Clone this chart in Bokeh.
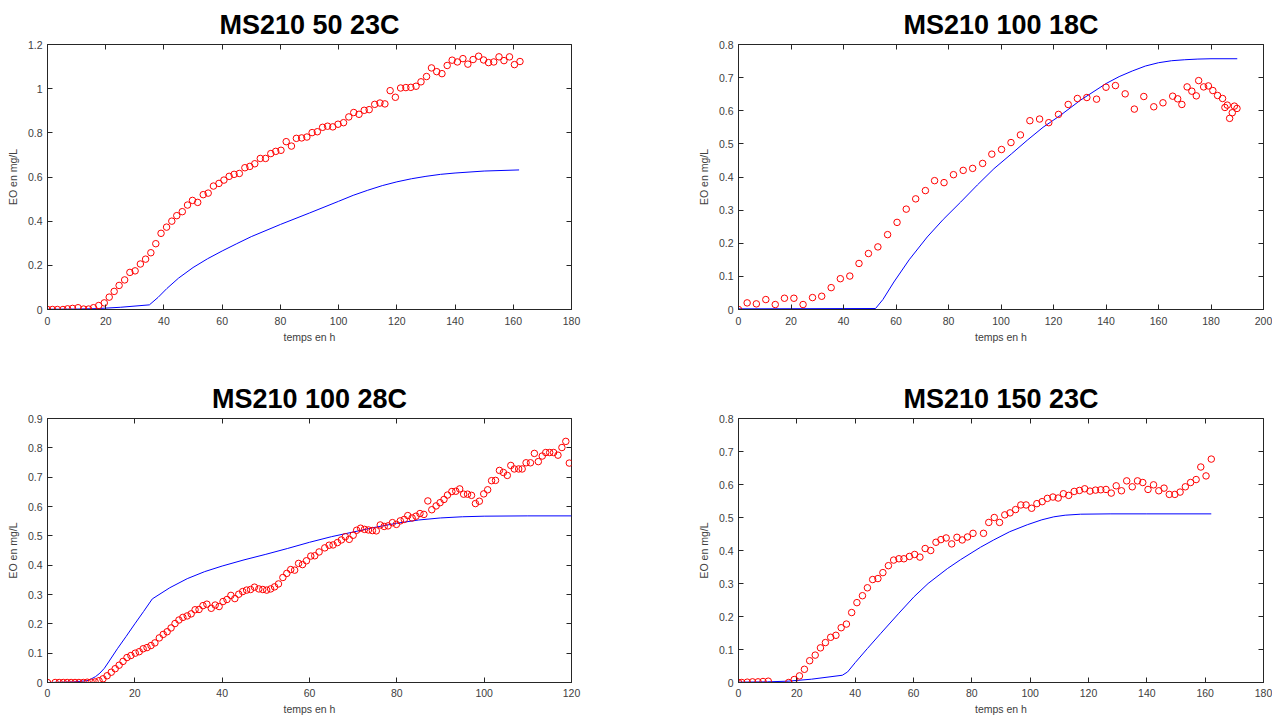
from bokeh.plotting import figure
from bokeh.layouts import row, column
from bokeh.models import Range1d, FixedTicker, LinearAxis, NumeralTickFormatter
from bokeh.embed import file_html
from bokeh.resources import INLINE

# ---------------- data ----------------
titles = ["MS210 50 23C", "MS210 100 18C", "MS210 100 28C", "MS210 150 23C"]
x_label = "temps en h"
y_label = "EO en mg/L"

# Panel 1 : MS210 50 23C
t1 = [0, 1.7, 3.4, 5.3, 6.9, 8.6, 10.5, 12.4, 14.1, 15.8, 17.6, 19.5, 21.2, 22.9, 24.6, 26.5,
      28.3, 30.1, 31.9, 33.7, 35.5, 37.2, 39.0, 40.9, 42.7, 44.4, 46.3, 48.1, 49.8, 51.6, 53.5,
      55.2, 57.0, 58.9, 60.6, 62.4, 64.1, 65.9, 67.8, 69.5, 71.2, 73.1, 74.9, 76.7, 78.4, 80.2,
      82.0, 83.8, 85.5, 87.3, 89.1, 90.9, 92.7, 94.5, 96.2, 98.0, 99.8, 101.7, 103.5, 105.2,
      107.0, 108.8, 110.5, 112.4, 114.2, 115.9, 117.7, 119.5, 121.3, 123.1, 124.8, 126.6, 128.3,
      130.2, 131.9, 133.7, 135.5, 137.3, 139.0, 140.8, 142.7, 144.4, 146.2, 148.1, 149.8, 151.5,
      153.3, 155.1, 156.8, 158.7, 160.4, 162.3]
eo1 = [0, 0, 0, 0, 0.003, 0.005, 0.008, 0.002, 0.002, 0.008, 0.018, 0.03, 0.056, 0.082, 0.109,
       0.134, 0.168, 0.175, 0.206, 0.228, 0.257, 0.298, 0.345, 0.373, 0.400, 0.425, 0.443, 0.473,
       0.494, 0.485, 0.520, 0.527, 0.559, 0.571, 0.586, 0.603, 0.612, 0.616, 0.642, 0.648, 0.660,
       0.684, 0.684, 0.706, 0.716, 0.721, 0.760, 0.740, 0.775, 0.777, 0.781, 0.801, 0.805, 0.825,
       0.830, 0.827, 0.839, 0.846, 0.872, 0.892, 0.884, 0.902, 0.905, 0.929, 0.935, 0.931, 0.991,
       0.961, 1.003, 1.005, 1.006, 1.011, 1.031, 1.055, 1.094, 1.077, 1.068, 1.105, 1.129, 1.121,
       1.136, 1.111, 1.132, 1.147, 1.130, 1.118, 1.121, 1.144, 1.127, 1.144, 1.109, 1.123]
mt1 = [0, 10, 17, 25, 35, 38, 41, 45, 50, 55, 60, 65, 70, 80, 90, 100, 105, 110, 115, 120, 125,
       130, 135, 140, 150, 162]
my1 = [0.001, 0.002, 0.004, 0.01, 0.021, 0.055, 0.095, 0.142, 0.19, 0.23, 0.265, 0.298, 0.33,
       0.385, 0.437, 0.49, 0.517, 0.54, 0.561, 0.578, 0.592, 0.603, 0.612, 0.618, 0.627, 0.632]

# Panel 2 : MS210 100 18C
t2 = [0, 3.3, 6.8, 10.4, 14.0, 17.5, 21.1, 24.6, 28.2, 31.7, 35.3, 38.8, 42.4, 45.9, 49.5, 53.1,
      56.8, 60.4, 63.9, 67.5, 71.2, 74.7, 78.3, 81.9, 85.6, 89.2, 93.0, 96.5, 100.2, 103.8, 107.4,
      111.0, 114.7, 118.2, 121.9, 125.6, 129.1, 132.7, 136.4, 140.0, 143.6, 147.3, 150.8, 154.4,
      158.2, 161.7, 165.4, 167.3, 168.9, 170.9, 172.7, 174.4, 175.3, 177.2, 179.0, 180.7, 182.5,
      184.4, 185.3, 186.2, 187.1, 188.1, 188.9, 189.9]
eo2 = [0, 0.020, 0.017, 0.030, 0.015, 0.034, 0.034, 0.015, 0.036, 0.040, 0.066, 0.093, 0.101,
       0.139, 0.169, 0.189, 0.226, 0.263, 0.303, 0.334, 0.359, 0.389, 0.383, 0.407, 0.420, 0.426,
       0.441, 0.469, 0.483, 0.504, 0.527, 0.570, 0.575, 0.564, 0.589, 0.619, 0.637, 0.640, 0.635,
       0.671, 0.676, 0.651, 0.605, 0.643, 0.612, 0.624, 0.644, 0.636, 0.619, 0.672, 0.659, 0.645,
       0.691, 0.672, 0.675, 0.661, 0.646, 0.637, 0.610, 0.617, 0.577, 0.594, 0.614, 0.607]
mt2 = [0, 52.2, 55, 59.2, 65, 71.9, 78, 84.6, 91, 97.3, 104, 110, 116, 122.6, 130.3, 140, 145,
       150, 155, 160, 165, 170, 175, 180, 190]
my2 = [0.002, 0.003, 0.03, 0.083, 0.15, 0.219, 0.272, 0.324, 0.376, 0.425, 0.47, 0.511, 0.55,
       0.586, 0.632, 0.682, 0.703, 0.72, 0.735, 0.745, 0.751, 0.754, 0.756, 0.757, 0.757]

# Panel 3 : MS210 100 28C
t3 = [0, 1.75, 2.67, 3.6, 4.5, 5.4, 6.3, 7.2, 8.2, 9.1, 10.0, 10.9, 11.8, 12.7, 13.65, 14.6, 15.5,
      16.4, 17.3, 18.2, 19.1, 20.1, 21.0, 21.9, 22.8, 23.7, 24.6, 25.6, 26.5, 27.4, 28.3, 29.2,
      30.1, 31.0, 32.0, 32.9, 33.8, 34.7, 35.6, 36.5, 37.5, 38.4, 39.3, 40.2, 41.1, 42.0, 42.9,
      43.8, 44.7, 45.6, 46.5, 47.4, 48.4, 49.3, 50.2, 51.1, 52.0, 52.9, 53.9, 54.8, 55.7, 56.6,
      57.5, 58.4, 59.3, 60.3, 61.2, 62.2, 63.5, 64.5, 65.4, 66.4, 67.3, 68.2, 69.1, 70.0, 70.8,
      71.7, 72.6, 73.5, 74.4, 75.3, 76.2, 77.1, 78.0, 79.0, 79.9, 80.8, 81.7, 82.5, 83.5, 84.4,
      85.3, 86.2, 87.1, 88.0, 89.0, 89.9, 90.8, 91.6, 92.6, 93.5, 94.4, 95.3, 96.2, 97.1, 98.0,
      98.9, 99.9, 100.8, 101.7, 102.6, 103.5, 104.4, 105.3, 106.1, 106.9, 107.9, 108.7, 109.6,
      110.6, 111.5, 112.4, 113.3, 114.1, 115.0, 115.9, 116.9, 117.8, 118.7, 119.5]
eo3 = [0, 0, 0, 0, 0, 0, 0, 0, 0, 0.001, 0.001, 0.002, 0.006, 0.0125, 0.023, 0.035, 0.047, 0.059,
       0.072, 0.085, 0.092, 0.100, 0.105, 0.115, 0.119, 0.126, 0.135, 0.152, 0.164, 0.173, 0.186,
       0.201, 0.213, 0.222, 0.227, 0.234, 0.248, 0.249, 0.262, 0.267, 0.253, 0.264, 0.259, 0.276,
       0.283, 0.297, 0.286, 0.301, 0.310, 0.315, 0.317, 0.325, 0.319, 0.317, 0.315, 0.319, 0.326,
       0.336, 0.358, 0.372, 0.385, 0.383, 0.406, 0.402, 0.415, 0.431, 0.432, 0.445, 0.459, 0.468,
       0.469, 0.477, 0.486, 0.497, 0.488, 0.502, 0.519, 0.526, 0.522, 0.520, 0.518, 0.517, 0.537,
       0.532, 0.534, 0.545, 0.539, 0.551, 0.556, 0.569, 0.561, 0.567, 0.576, 0.573, 0.619, 0.589,
       0.602, 0.613, 0.624, 0.639, 0.651, 0.652, 0.660, 0.642, 0.642, 0.638, 0.610, 0.618, 0.643,
       0.657, 0.688, 0.689, 0.723, 0.716, 0.706, 0.740, 0.728, 0.728, 0.728, 0.749, 0.749, 0.781,
       0.753, 0.772, 0.784, 0.784, 0.784, 0.775, 0.801, 0.822, 0.748]
mt3 = [0, 6, 9, 10, 11, 12, 13, 14, 16, 18, 20, 22, 24, 28, 32, 36, 40, 45, 50, 55, 60, 65, 70,
       75, 80, 85, 90, 95, 100, 110, 120]
my3 = [0, 0.002, 0.006, 0.012, 0.02, 0.032, 0.048, 0.07, 0.115, 0.157, 0.2, 0.242, 0.285, 0.323,
       0.354, 0.378, 0.397, 0.418, 0.437, 0.457, 0.478, 0.497, 0.513, 0.529, 0.543, 0.554, 0.561,
       0.565, 0.567, 0.568, 0.568]

# Panel 4 : MS210 150 23C
t4 = [0, 1.1, 3.0, 4.8, 6.7, 8.4, 10.2, 17.2, 19.1, 20.9, 22.6, 24.4, 26.3, 28.1, 29.8, 31.6,
      33.4, 35.2, 37.0, 38.8, 40.6, 42.5, 44.2, 46.0, 47.8, 49.5, 51.4, 53.2, 55.0, 56.7, 58.6,
      60.4, 62.2, 64.0, 65.9, 67.7, 69.4, 71.2, 73.1, 74.9, 76.7, 78.5, 80.4, 84.0, 85.8, 87.7,
      89.5, 91.3, 93.1, 95.0, 96.8, 98.6, 100.5, 102.3, 104.1, 105.9, 107.8, 109.6, 111.4, 113.2,
      115.1, 116.9, 118.7, 120.5, 122.4, 124.2, 126.0, 127.8, 129.5, 131.3, 133.1, 135.0, 136.8,
      138.6, 140.4, 142.3, 144.1, 145.9, 147.7, 149.6, 151.4, 153.2, 155.0, 156.9, 158.5, 160.3,
      162.1]
eo4 = [0, 0, 0.001, 0.002, 0.002, 0.003, 0.004, 0, 0.009, 0.020, 0.040, 0.066, 0.083, 0.105,
       0.121, 0.137, 0.143, 0.166, 0.177, 0.212, 0.242, 0.263, 0.287, 0.312, 0.315, 0.333, 0.354,
       0.371, 0.375, 0.375, 0.382, 0.388, 0.380, 0.406, 0.400, 0.425, 0.433, 0.438, 0.420, 0.440,
       0.432, 0.441, 0.452, 0.452, 0.485, 0.500, 0.485, 0.508, 0.514, 0.524, 0.538, 0.538, 0.528,
       0.542, 0.548, 0.558, 0.562, 0.559, 0.572, 0.567, 0.579, 0.582, 0.587, 0.580, 0.583, 0.584,
       0.585, 0.574, 0.596, 0.581, 0.611, 0.593, 0.611, 0.606, 0.585, 0.599, 0.581, 0.589, 0.570,
       0.570, 0.577, 0.593, 0.606, 0.615, 0.653, 0.626, 0.677]
mt4 = [0, 10, 17, 25, 35.6, 37.4, 40, 44.2, 48.7, 55, 60.2, 65, 71.6, 76.1, 83, 87.5, 93, 99, 104,
       108.1, 112, 117.3, 127.4, 140, 162.1]
my4 = [0.001, 0.002, 0.004, 0.01, 0.022, 0.032, 0.06, 0.103, 0.148, 0.21, 0.26, 0.3, 0.345,
       0.372, 0.41, 0.432, 0.457, 0.478, 0.493, 0.502, 0.507, 0.51, 0.511, 0.511, 0.511]

x_ticks_180 = [0, 20, 40, 60, 80, 100, 120, 140, 160, 180]
x_ticks_200 = [0, 20, 40, 60, 80, 100, 120, 140, 160, 180, 200]
x_ticks_120 = [0, 20, 40, 60, 80, 100, 120]
y_ticks_12 = [0, 0.2, 0.4, 0.6, 0.8, 1.0, 1.2]
y_ticks_08 = [0, 0.1, 0.2, 0.3, 0.4, 0.5, 0.6, 0.7, 0.8]
y_ticks_09 = [0, 0.1, 0.2, 0.3, 0.4, 0.5, 0.6, 0.7, 0.8, 0.9]

# ---------------- styling ----------------
FONT = "Liberation Sans"
AX = "#262626"
TXT = "#404040"


def panel(title, xs, ys, mx, my, xmax, ymax, xt, yt, w, h, bl, br, bt, bb, bottom):
    p = figure(width=w, height=h, x_range=Range1d(0, xmax), y_range=Range1d(0, ymax),
               output_backend="svg", toolbar_location=None,
               min_border_left=bl, min_border_right=br, min_border_top=bt, min_border_bottom=bb,
               x_axis_label=x_label, y_axis_label=y_label)
    p.background_fill_color = "white"
    p.border_fill_color = "white"
    p.outline_line_color = AX
    p.outline_line_width = 1
    p.xgrid.visible = False
    p.ygrid.visible = False

    p.title.text = title
    p.title.text_font = FONT
    p.title.text_font_style = "bold"
    p.title.text_font_size = "27px"
    p.title.text_color = "black"
    p.title.align = "center"
    p.title.standoff = 9

    for ax, ticks in ((p.xaxis[0], xt), (p.yaxis[0], yt)):
        ax.ticker = FixedTicker(ticks=ticks)
        ax.major_tick_in = 5
        ax.major_tick_out = 0
        ax.minor_tick_line_color = None
        ax.axis_line_color = AX
        ax.major_tick_line_color = AX
        ax.major_label_text_font = FONT
        ax.major_label_text_font_size = "10.5px"
        ax.major_label_text_color = TXT
        ax.axis_label_text_font = FONT
        ax.axis_label_text_font_size = "10.5px"
        ax.axis_label_text_font_style = "normal"
        ax.axis_label_text_color = TXT
    p.yaxis[0].formatter = NumeralTickFormatter(format="0.[0]")
    p.yaxis[0].major_label_standoff = 5
    p.yaxis[0].axis_label_standoff = 6
    if bottom:
        p.xaxis[0].major_label_standoff = 6
        p.xaxis[0].axis_label_standoff = 3
    else:
        p.xaxis[0].major_label_standoff = 7
        p.xaxis[0].axis_label_standoff = 3

    # inward ticks on the top and right edges of the box (no labels)
    for loc, ticks in (("above", xt), ("right", yt)):
        a = LinearAxis(ticker=FixedTicker(ticks=ticks), major_tick_in=5, major_tick_out=0,
                       minor_tick_line_color=None, axis_line_color=None,
                       major_tick_line_color=AX, major_label_text_font_size="1px",
                       major_label_text_color=None, major_label_standoff=0)
        p.add_layout(a, loc)

    p.line(mx, my, line_color="#0000ff", line_width=1)
    p.scatter(xs, ys, marker="circle", size=6.5, fill_color=None, line_color="#ff0000",
              line_width=1)
    return p


p1 = panel(titles[0], t1, eo1, mt1, my1, 180, 1.2, x_ticks_180, y_ticks_12,
           600, 355, 47, 29, 44, 46, False)
p2 = panel(titles[1], t2, eo2, mt2, my2, 200, 0.8, x_ticks_200, y_ticks_08,
           672, 355, 138, 9, 44, 46, False)
p3 = panel(titles[2], t3, eo3, mt3, my3, 120, 0.9, x_ticks_120, y_ticks_09,
           600, 362, 47, 29, 63, 35, True)
p4 = panel(titles[3], t4, eo4, mt4, my4, 180, 0.8, x_ticks_180, y_ticks_08,
           672, 362, 138, 9, 63, 35, True)

layout = column(row(p1, p2), row(p3, p4))

open("out.html", "w").write(file_html(layout, INLINE))
